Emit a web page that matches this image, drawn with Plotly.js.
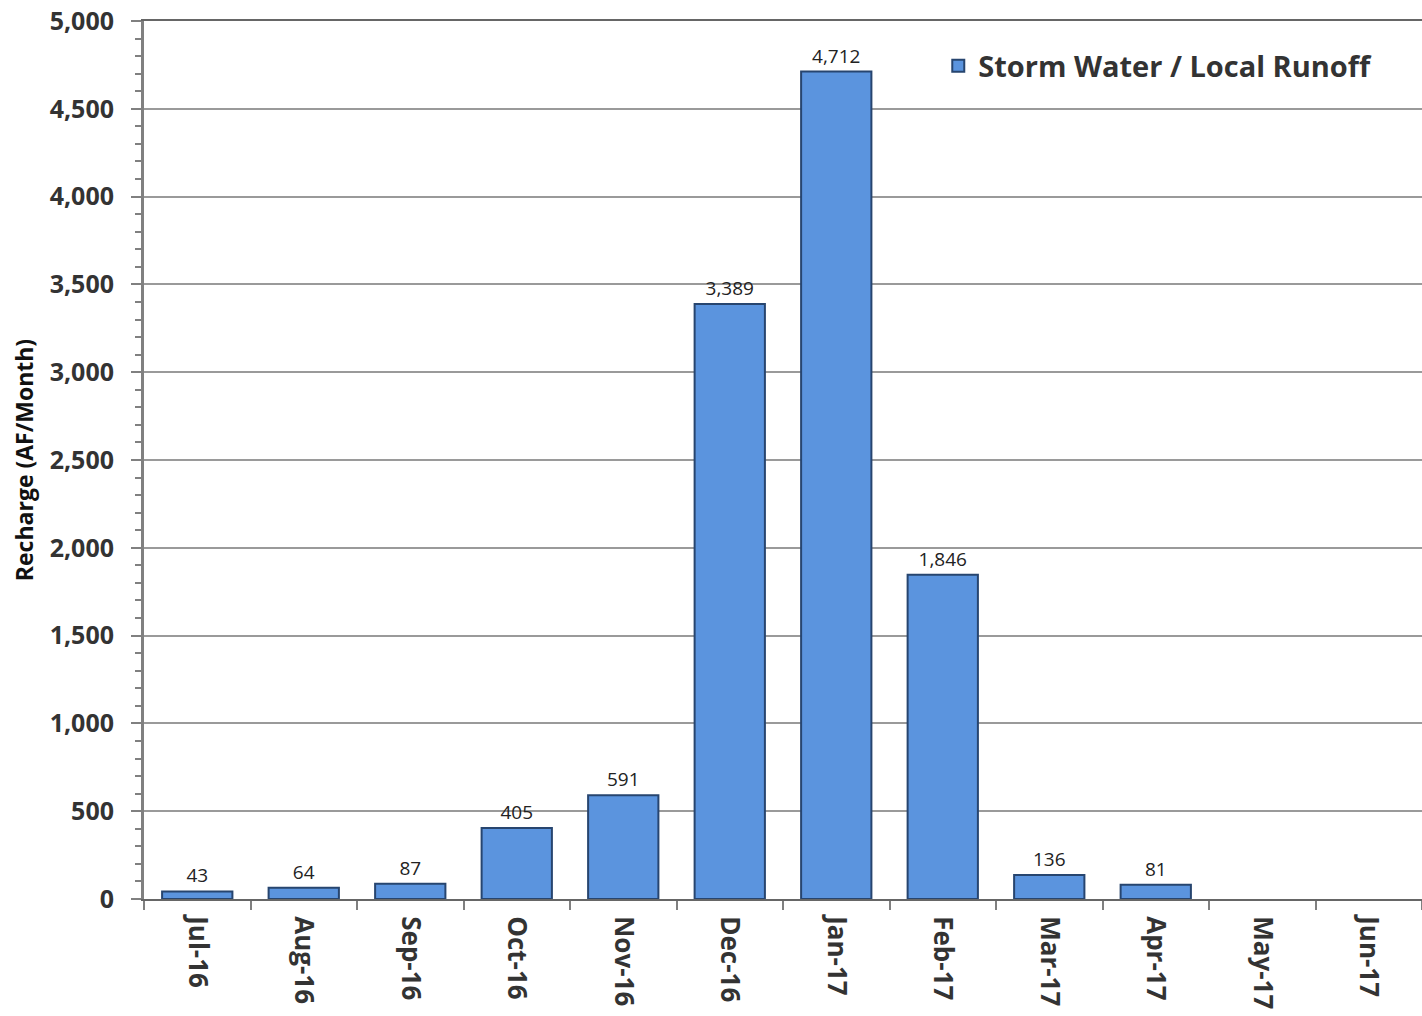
<!DOCTYPE html>
<html><head><meta charset="utf-8">
<script src="https://cdn.plot.ly/plotly-3.0.1.min.js"></script>
<style>body{margin:0;background:#fff}#chart{width:1422px;height:1016px}</style>
</head><body><div id="chart"></div>
<script>
const months = ["Jul-16","Aug-16","Sep-16","Oct-16","Nov-16","Dec-16","Jan-17","Feb-17","Mar-17","Apr-17","May-17","Jun-17"];
const recharge = [43,64,87,405,591,3389,4712,1846,136,81,null,null];
const labels = recharge.map(v => v == null ? "" : v.toLocaleString("en-US"));
const seriesName = "Storm Water / Local Runoff";

const trace = {
  type: "bar", x: months, y: recharge, name: seriesName,
  text: labels, textposition: "outside", cliponaxis: false,
  textfont: {family: "Open Sans, sans-serif", size: 19, color: "#222"},
  marker: {color: "#5B94DE", line: {color: "#27456F", width: 2}},
  width: 0.66
};

const layout = {
  width: 1422, height: 1016,
  margin: {l: 144, r: 0, t: 21, b: 117},
  paper_bgcolor: "#fff", plot_bgcolor: "#fff",
  showlegend: true,
  legend: {x: 0.965, y: 0.978, xanchor: "right", yanchor: "top",
    font: {family: "Open Sans, sans-serif", size: 29, color: "#333", weight: "bold"},
    itemwidth: 30, bgcolor: "rgba(255,255,255,0)"},
  xaxis: {
    type: "category", tickangle: 90, tickson: "boundaries",
    ticks: "outside", ticklen: 9, tickwidth: 2, tickcolor: "#808080",
    ticklabelstandoff: 10,
    showline: true, linecolor: "#666", linewidth: 2, mirror: true,
    tickfont: {family: "Open Sans, sans-serif", size: 26, color: "#333", weight: "bold"},
    showgrid: false
  },
  yaxis: {
    range: [0, 5000], dtick: 500, tickformat: ",",
    ticks: "outside", ticklen: 10, tickwidth: 2, tickcolor: "#808080",
    ticklabelstandoff: 12,
    minor: {dtick: 100, ticks: "outside", ticklen: 6, tickwidth: 2, tickcolor: "#808080", showgrid: false},
    showline: true, linecolor: "#808080", linewidth: 3,
    showgrid: true, gridcolor: "#9a9a9a", gridwidth: 2,
    tickfont: {family: "Open Sans, sans-serif", size: 25, color: "#333", weight: "bold"},
    title: {text: "Recharge (AF/Month)", standoff: 10,
      font: {family: "Open Sans, sans-serif", size: 23, color: "#111", weight: "bold"}},
    zeroline: false
  }
};

Plotly.newPlot("chart", [trace], layout, {displayModeBar: false, staticPlot: true});
</script></body></html>
